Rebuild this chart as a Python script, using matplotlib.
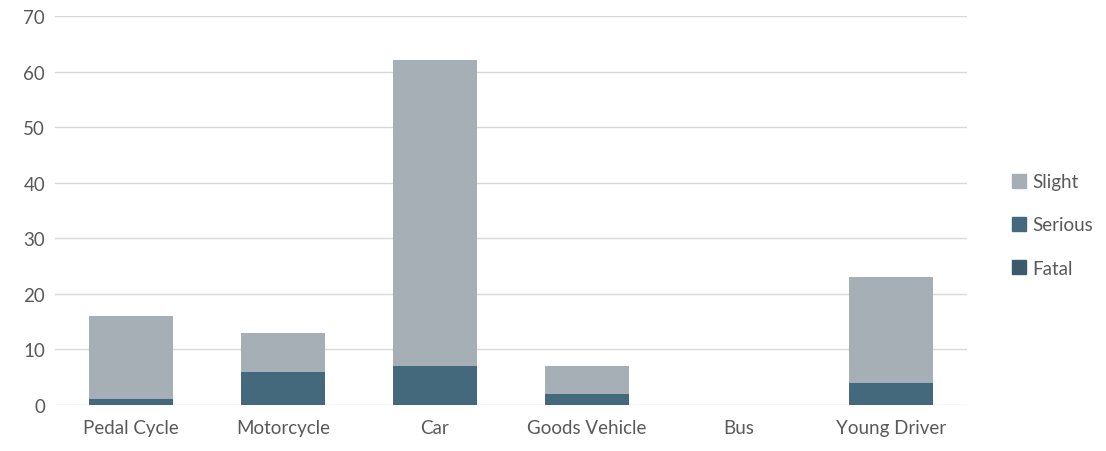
import matplotlib

matplotlib.use("Agg")
import matplotlib.pyplot as plt
from matplotlib.patches import Patch

categories = ["Pedal Cycle", "Motorcycle", "Car", "Goods Vehicle", "Bus", "Young Driver"]
fatal = [0, 0, 0, 0, 0, 0]
serious = [1, 6, 7, 2, 0, 4]
slight = [15, 7, 55, 5, 0, 19]

colors = {"Fatal": "#3B5A6A", "Serious": "#44697D", "Slight": "#A5AFB5"}
text_color = "#595959"

plt.rcParams["font.family"] = ["Lato", "DejaVu Sans"]

fig = plt.figure(figsize=(11.06, 4.52), dpi=100)
ax = fig.add_axes([0.0497, 0.1018, 0.8245, 0.8606])

x = range(len(categories))
width = 0.55
bottom_serious = fatal
bottom_slight = [f + s for f, s in zip(fatal, serious)]
ax.bar(x, fatal, width, color=colors["Fatal"], zorder=3)
ax.bar(x, serious, width, bottom=bottom_serious, color=colors["Serious"], zorder=3)
ax.bar(x, slight, width, bottom=bottom_slight, color=colors["Slight"], zorder=3)

ax.set_xlim(-0.5, len(categories) - 0.5)
ax.set_ylim(0, 70)
ax.set_yticks(range(0, 71, 10))
ax.set_xticks(list(x), categories)
ax.grid(True, axis="y", color="#D9D9D9", linewidth=1, zorder=0)
for side in ["top", "right", "left", "bottom"]:
    ax.spines[side].set_visible(False)
ax.tick_params(axis="both", length=0, labelsize=13.5, colors=text_color)
ax.tick_params(axis="x", pad=10)
ax.tick_params(axis="y", pad=7)

handles = [Patch(color=colors[k]) for k in ["Slight", "Serious", "Fatal"]]
fig.legend(
    handles,
    ["Slight", "Serious", "Fatal"],
    loc="center left",
    bbox_to_anchor=(0.9, 0.5),
    frameon=False,
    fontsize=13.5,
    labelcolor=text_color,
    handlelength=0.75,
    handleheight=0.75,
    handletextpad=0.3,
    labelspacing=1.4,
)

fig.savefig("out.png", dpi=100)
